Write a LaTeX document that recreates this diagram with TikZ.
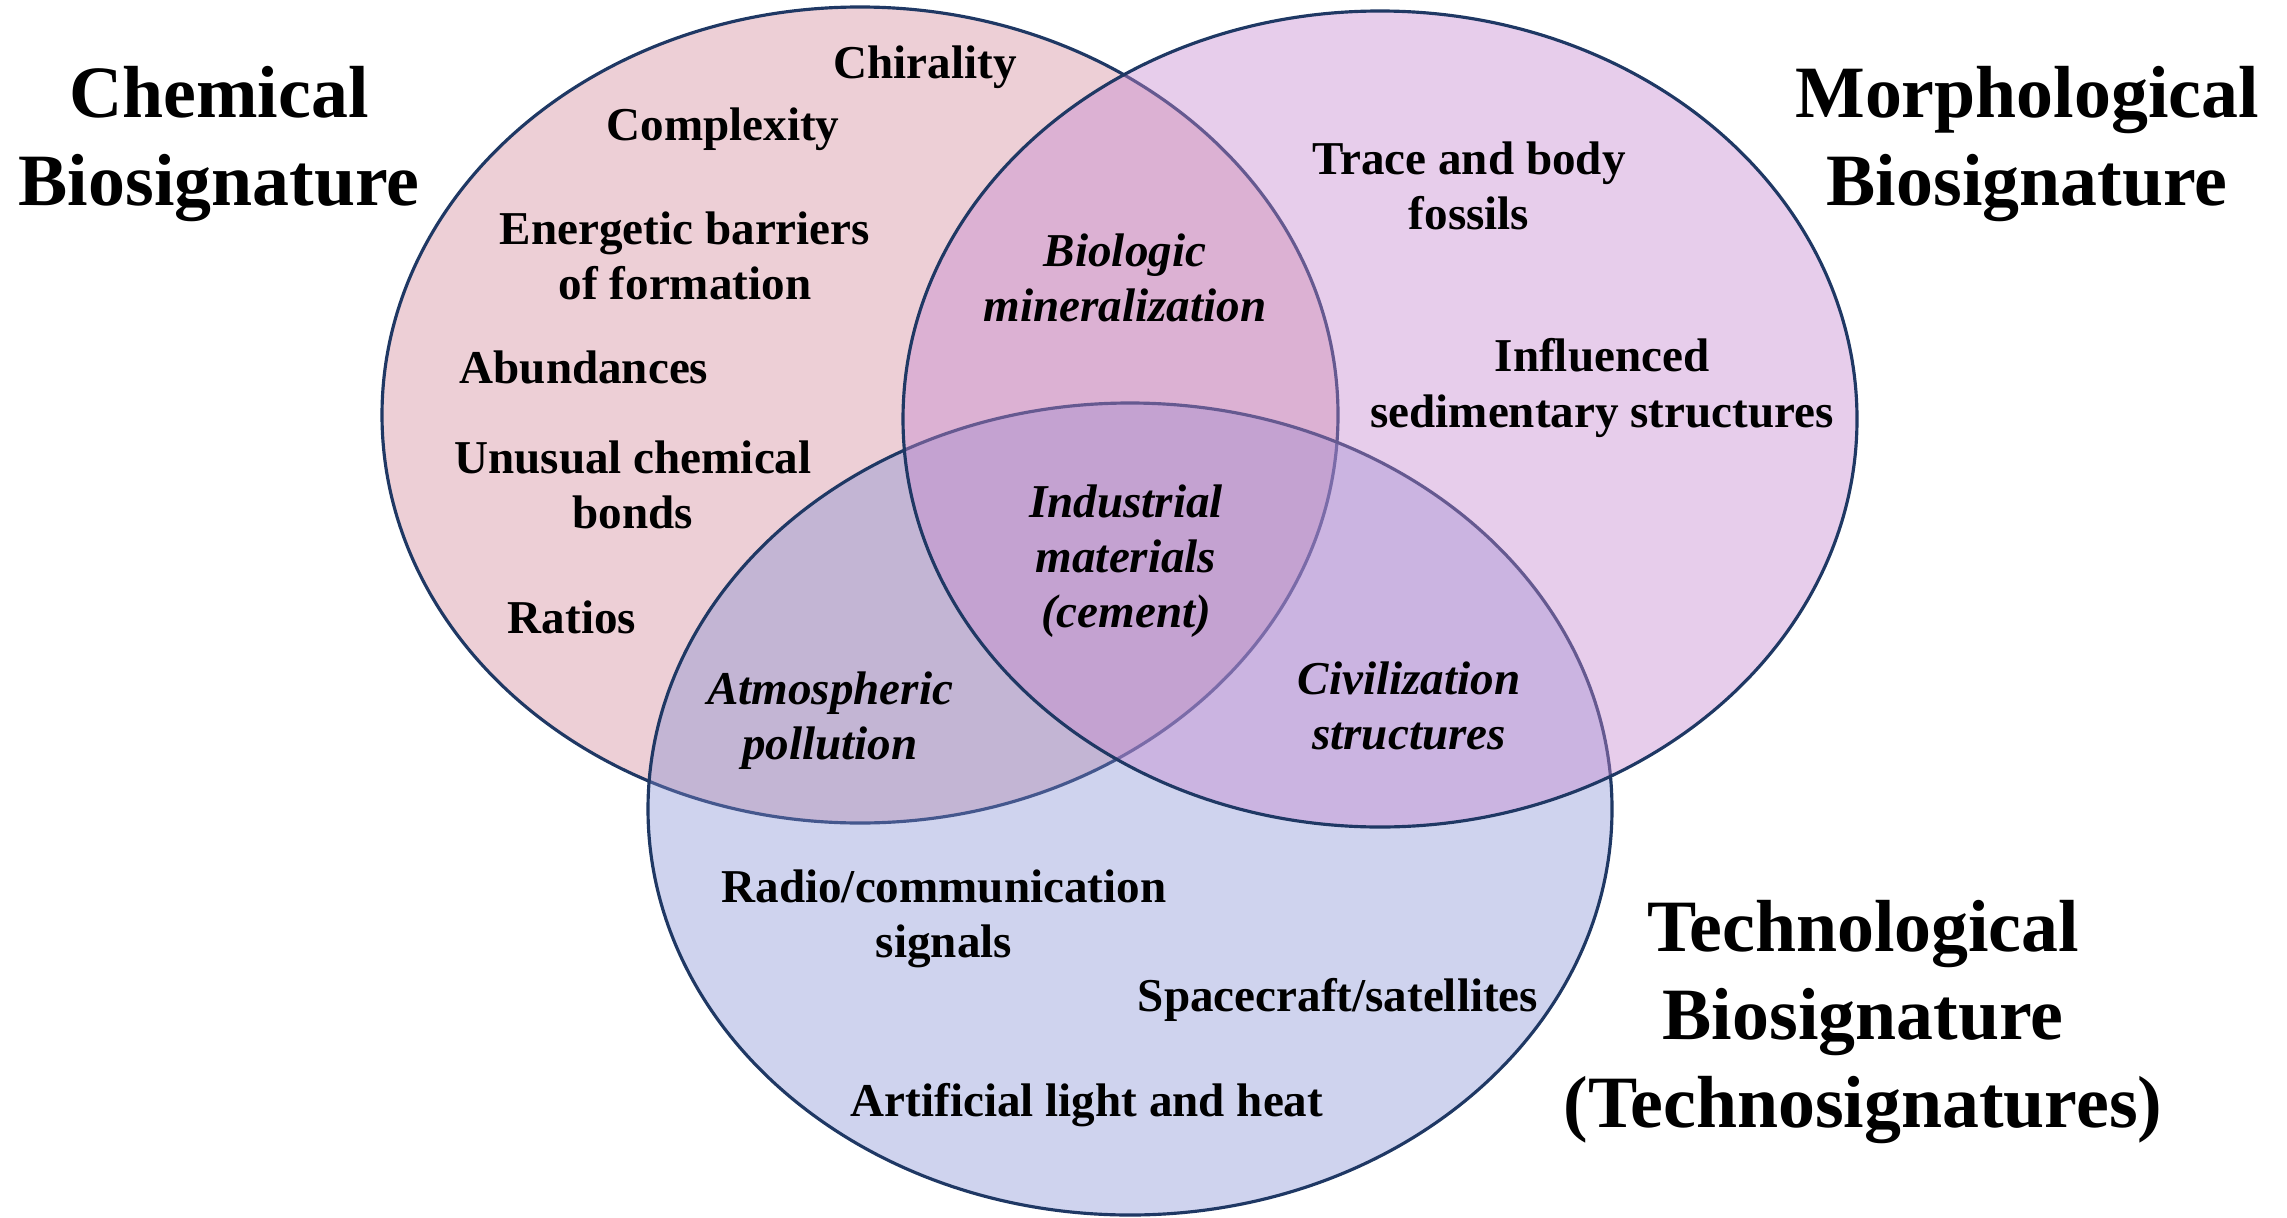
\documentclass[tikz,border=0pt]{standalone}
\usepackage{fontspec}
\setmainfont{Liberation Serif}
\usepackage{xcolor}
\usetikzlibrary{positioning}
\definecolor{rimblue}{RGB}{31,56,100}
\definecolor{chempink}{RGB}{237,207,214}
\definecolor{techblue}{RGB}{129,139,210}
\definecolor{morphviolet}{RGB}{198,136,207}

\begin{document}
\begin{tikzpicture}[
  set/.style={draw=rimblue, line width=0.9pt},
  title/.style={align=center, font=\fontsize{21}{25}\selectfont\bfseries},
  item/.style={align=center, font=\fontsize{13.4}{15.7}\selectfont\bfseries},
  shared/.style={align=center, font=\fontsize{13.4}{15.7}\selectfont\bfseries\itshape}
]
\useasboundingbox (0,0) rectangle (22.87,12.17);

% the three sets (tech is laid before morph)
\draw[set, fill=chempink] (8.60,8.02) ellipse [x radius=4.78, y radius=4.08];
\draw[set, fill=techblue, fill opacity=0.38] (11.30,4.08) ellipse [x radius=4.82, y radius=4.06];
\draw[set, fill=morphviolet, fill opacity=0.42] (13.80,7.98) ellipse [x radius=4.77, y radius=4.08];

% set titles
\node[title] (chemtitle) at (2.19,10.73) {Chemical\\Biosignature};
\node[title] (morphtitle) at (20.27,10.73) {Morphological\\Biosignature};
\node[title] (techtitle) at (18.63,1.95) {Technological\\Biosignature\\(Technosignatures)};

% chemical only
\node[item] (chirality) at (9.25,11.50) {Chirality};
\node[item] (complexity) at (7.23,10.88) {Complexity};
\node[item] (barriers) at (6.85,9.61) {Energetic barriers\\of formation};
\node[item] (abundances) at (5.84,8.50) {Abundances};
\node[item] (bonds) at (6.33,7.32) {Unusual chemical\\bonds};
\node[item] (ratios) at (5.72,6.00) {Ratios};

% morphological only
\node[item] (fossils) at (14.69,10.31) {Trace and body\\fossils};
\node[item] (sediments) at (16.02,8.29) {Influenced\\sedimentary structures};

% technological only
\node[item] (radio) at (9.44,2.98) {Radio/communication\\signals};
\node[item] (spacecraft) at (13.38,2.17) {Spacecraft/satellites};
\node[item] (light) at (10.87,1.12) {Artificial light and heat};

% overlaps
\node[shared] (mineral) at (11.25,9.39) {Biologic\\mineralization};
\node[shared] (industry) at (11.26,6.56) {Industrial\\materials\\(cement)};
\node[shared] (pollution) at (8.30,4.96) {Atmospheric\\pollution};
\node[shared] (civil) at (14.09,5.11) {Civilization\\structures};
\end{tikzpicture}
\end{document}
